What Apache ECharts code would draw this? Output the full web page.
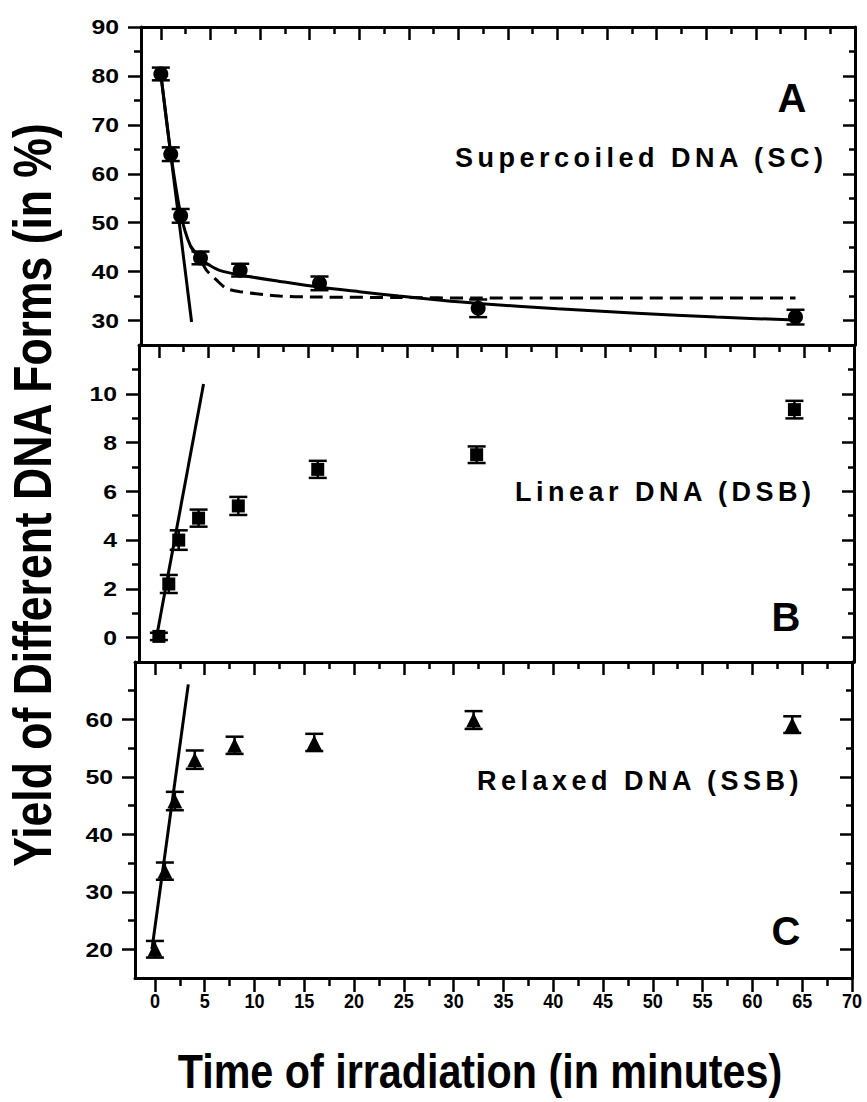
<!DOCTYPE html>
<html><head><meta charset="utf-8">
<script src="https://cdn.jsdelivr.net/npm/echarts@6/dist/echarts.min.js"></script>
<style>html,body{margin:0;padding:0;background:#fff}#c{width:867px;height:1102px}</style>
</head><body><div id="c"></div>
<script>
// ---------- data ----------
const times = [0, 1, 2, 4, 8, 16, 32, 64];
const scValues = [80.4, 64.0, 51.4, 42.8, 40.3, 37.6, 32.5, 30.7];
const scErrors = [1.3, 1.4, 1.4, 1.3, 1.3, 1.4, 1.8, 1.5];
const dsbValues = [0.05, 2.2, 4.0, 4.9, 5.4, 6.9, 7.5, 9.35];
const dsbErrors = [0.15, 0.37, 0.4, 0.35, 0.37, 0.35, 0.34, 0.36];
const ssbValues = [20.0, 33.6, 45.8, 53.0, 55.5, 56.0, 59.9, 59.1];
const ssbErrors = [1.45, 1.5, 1.6, 1.6, 1.5, 1.5, 1.55, 1.45];

const scFitSolid = [[0,80.4],[1,64.2],[2,51.8],[3,45.2],[4,42.6],[5,41.2],[6,40.2],[8,39.3],[12,38.0],[16,36.8],[20,35.9],[24,35.0],[28,34.2],[32,33.5],[40,32.4],[48,31.5],[56,30.7],[64,30.1]];
const scFitDashed = [[3,45.2],[4,42.4],[4.6,40.3],[5.6,38.3],[6.6,36.6],[8,35.9],[12,35.0],[16,34.8],[24,34.7],[32,34.6],[48,34.6],[64,34.6]];
const scInitialLine = [[0,80.4],[3.1,29.7]];
const dsbInitialLine = [[-0.2,0.1],[4.5,10.4]];
const ssbInitialLine = [[-0.3,20.0],[3.35,66.1]];

const xTicks = [0,5,10,15,20,25,30,35,40,45,50,55,60,65,70];
const xMinorTicks = [2.5,7.5,12.5,17.5,22.5,27.5,32.5,37.5,42.5,47.5,52.5,57.5,62.5,67.5];
const scYTicks = [30,40,50,60,70,80,90];
const scYMinor = [35,45,55,65,75,85];
const dsbYTicks = [0,2,4,6,8,10];
const dsbYMinor = [1,3,5,7,9,11];
const ssbYTicks = [20,30,40,50,60];
const ssbYMinor = [25,35,45,55,65];

const panelNames = ['Supercoiled DNA (SC)', 'Linear DNA (DSB)', 'Relaxed DNA (SSB)'];
const panelLetters = ['A', 'B', 'C'];
const yTitle = 'Yield of Different DNA Forms (in %)';
const xTitle = 'Time of irradiation (in minutes)';

// ---------- layout ----------
const FONT = "'Liberation Sans', Arial, Helvetica, sans-serif";
const panels = [
  {grid:{left:141, right:12, top:27, height:318}, ymin:25, ymax:90, yt:scYTicks, ym:scYMinor},
  {grid:{left:139, right:13, top:345, height:317}, ymin:-1, ymax:12, yt:dsbYTicks, ym:dsbYMinor},
  {grid:{left:135, right:15, top:662, height:316}, ymin:15, ymax:70, yt:ssbYTicks, ym:ssbYMinor}
];
const XMIN = -2, XMAX = 70;
const LW = 3, TW = 2.5;

const grids = [], xAxes = [], yAxes = [];
panels.forEach((p, i) => {
  grids.push(p.grid);
  const last = i === 2;
  const xa = (pos, vals, len, inside, line, tickShow) => ({
    type:'value', gridIndex:i, position:pos, min:XMIN, max:XMAX,
    axisLine:{show:line, onZero:false, lineStyle:{color:'#000', width:LW}},
    axisTick:{show:tickShow, inside:inside, length:len, customValues:vals, lineStyle:{color:'#000', width:TW}},
    axisLabel:{show:false},
    splitLine:{show:false}
  });
  xAxes.push(xa('bottom', xTicks, 14, false, true, last));
  xAxes.push(xa('bottom', xMinorTicks, 8, false, false, last));
  xAxes.push(xa('top', xTicks, 13, true, true, true));
  xAxes.push(xa('top', xMinorTicks, 7, true, false, true));
  const ya = (pos, vals, len, inside, line) => ({
    type:'value', gridIndex:i, position:pos, min:p.ymin, max:p.ymax,
    axisLine:{show:line, onZero:false, lineStyle:{color:'#000', width:LW}},
    axisTick:{show:true, inside:inside, length:len, customValues:vals, lineStyle:{color:'#000', width:TW}},
    axisLabel:{show:false},
    splitLine:{show:false}
  });
  yAxes.push(ya('left', p.yt, 13, false, true));
  yAxes.push(ya('left', p.ym, 7, false, false));
  yAxes.push(ya('right', p.yt, 12, true, true));
  yAxes.push(ya('right', p.ym, 6, true, false));
});

function errorSeries(i, vals, errs) {
  return {
    type:'custom', xAxisIndex:i*4, yAxisIndex:i*4, silent:true, z:3,
    data: times.map((t, k) => [t, vals[k] - errs[k], vals[k] + errs[k]]),
    encode:{x:0, y:[1,2]},
    renderItem(params, api) {
      const x = api.value(0);
      const lo = api.coord([x, api.value(1)]);
      const hi = api.coord([x, api.value(2)]);
      const w = 9, st = {stroke:'#000', lineWidth:2.5};
      return {type:'group', children:[
        {type:'line', shape:{x1:lo[0], y1:lo[1], x2:hi[0], y2:hi[1]}, style:st},
        {type:'line', shape:{x1:lo[0]-w, y1:lo[1], x2:lo[0]+w, y2:lo[1]}, style:st},
        {type:'line', shape:{x1:hi[0]-w, y1:hi[1], x2:hi[0]+w, y2:hi[1]}, style:st}
      ]};
    }
  };
}
function points(i, vals, symbol, size) {
  return {type:'scatter', xAxisIndex:i*4, yAxisIndex:i*4, symbol, symbolSize:size, silent:true, z:4,
    itemStyle:{color:'#000', opacity:1, borderWidth:0}, data: times.map((t, k) => [t, vals[k]])};
}
function line(i, data, type, smooth) {
  return {type:'line', xAxisIndex:i*4, yAxisIndex:i*4, data, showSymbol:false, symbol:'none', silent:true,
    smooth: smooth || false, z:2, lineStyle:{color:'#000', width:3, opacity:1, type:type || 'solid'}};
}

const series = [
  line(0, scFitSolid, 'solid', 0.3),
  line(0, scFitDashed, [13, 7], 0.3),
  line(0, scInitialLine),
  errorSeries(0, scValues, scErrors),
  points(0, scValues, 'circle', 15),
  line(1, dsbInitialLine),
  errorSeries(1, dsbValues, dsbErrors),
  points(1, dsbValues, 'rect', 13),
  line(2, ssbInitialLine),
  errorSeries(2, ssbValues, ssbErrors),
  points(2, ssbValues, 'triangle', 15)
];

const labelPos = [[455, 158], [515, 492], [477, 781]];
const letterPos = [[792, 98], [786, 617], [786, 931]];
const graphic = [];
panelNames.forEach((n, i) => graphic.push({type:'text', x:labelPos[i][0], y:labelPos[i][1], silent:true,
  style:{text:n, fill:'#000', font:'bold 27px ' + FONT, textAlign:'left', textVerticalAlign:'middle'}}));
panelLetters.forEach((n, i) => graphic.push({type:'text', x:letterPos[i][0], y:letterPos[i][1], silent:true,
  style:{text:n, fill:'#000', font:'bold 40px ' + FONT, textAlign:'center', textVerticalAlign:'middle'}}));
graphic.push({type:'text', x:33, y:495, rotation:Math.PI/2, scaleX:0.84, silent:true,
  style:{text:yTitle, fill:'#000', font:'bold 53px ' + FONT, textAlign:'center', textVerticalAlign:'middle'}});
graphic.push({type:'text', x:480, y:1071, scaleX:0.86, silent:true,
  style:{text:xTitle, fill:'#000', font:'bold 48px ' + FONT, textAlign:'center', textVerticalAlign:'middle'}});

const chart = echarts.init(document.getElementById('c'), null, {renderer:'svg'});
chart.setOption({animation:false, backgroundColor:'#fff', grid:grids, xAxis:xAxes, yAxis:yAxes, series, graphic});

// tick labels placed through the axes' own scales
const tickLabels = [];
const bottomY = 662 + 316;
xTicks.forEach(v => {
  const px = chart.convertToPixel({xAxisIndex: 8}, v);
  tickLabels.push({type:'text', x:px, y:bottomY + 12, scaleX:0.86, silent:true,
    style:{text:String(v), fill:'#000', font:'bold 21px ' + FONT, textAlign:'center', textVerticalAlign:'top'}});
});
panels.forEach((p, i) => {
  p.yt.forEach(v => {
    const py = chart.convertToPixel({yAxisIndex: i*4}, v);
    tickLabels.push({type:'text', x:p.grid.left - 22, y:py, scaleX:1.18, silent:true,
      style:{text:String(v), fill:'#000', font:'bold 21px ' + FONT, textAlign:'right', textVerticalAlign:'middle'}});
  });
});
chart.setOption({graphic: graphic.concat(tickLabels)});

function spaceLabels() {
  document.querySelectorAll('#c svg text').forEach(t => {
    if (panelNames.indexOf(t.textContent) >= 0) t.style.letterSpacing = '4.5px';
  });
}
spaceLabels();
chart.on('finished', spaceLabels);
</script></body></html>
